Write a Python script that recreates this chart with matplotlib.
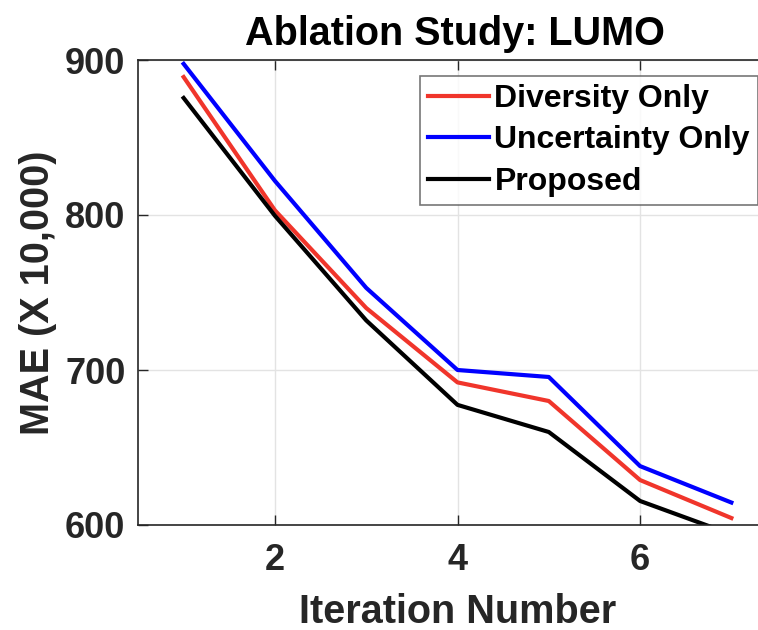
import matplotlib
matplotlib.use('Agg')
import matplotlib.pyplot as plt

iterations = [1, 2, 3, 4, 5, 6, 7]
diversity_only = [889, 803, 740, 692, 680, 629, 604.5]
uncertainty_only = [897.5, 822, 753, 700, 695.5, 638, 614.5]
proposed = [875.5, 799.5, 732, 677.5, 660, 615.5, 594]

plt.rcParams['font.family'] = ['Liberation Sans', 'DejaVu Sans']
plt.rcParams['font.weight'] = 'bold'

txt = '#262626'

fig = plt.figure(figsize=(7.58, 6.3), dpi=100)
ax = fig.add_axes([138 / 758, 105 / 630, 639 / 758, 465 / 630])

ax.plot(iterations, diversity_only, color='#f0352b', lw=3, label='Diversity Only')
ax.plot(iterations, uncertainty_only, color='#0000ff', lw=3, label='Uncertainty Only')
ax.plot(iterations, proposed, color='black', lw=3, label='Proposed')

ax.set_xlim(0.5, 7.5)
ax.set_ylim(600, 900)
ax.set_xticks([2, 4, 6])
ax.set_yticks([600, 700, 800, 900])
ax.grid(True, color='#e3e3e3', lw=1)
ax.set_axisbelow(True)

for s in ax.spines.values():
    s.set_color(txt)
    s.set_linewidth(1.2)
ax.tick_params(direction='in', length=7, width=1, colors=txt, labelsize=26,
               top=True, right=True)
ax.tick_params(axis='x', pad=13)
ax.tick_params(axis='y', pad=9)
for lab in ax.get_xticklabels() + ax.get_yticklabels():
    lab.set_fontweight('bold')

ax.set_xlabel('Iteration Number', fontsize=28.5, fontweight='bold', color=txt, labelpad=11)
ax.set_ylabel('MAE (X 10,000)', fontsize=28.5, fontweight='bold', color=txt, labelpad=6)
ax.set_title('Ablation Study: LUMO', fontsize=28.5, fontweight='bold', color='black', pad=11,
             x=(455 - 138) / 639)

leg = ax.legend(loc='upper left', bbox_to_anchor=(420 / 758, 1 - 76 / 630),
                bbox_transform=fig.transFigure, fontsize=23, frameon=True,
                fancybox=False, edgecolor='#555555', handlelength=1.9,
                handletextpad=0.18, borderpad=0.25, labelspacing=0.36, borderaxespad=0)
leg.get_frame().set_linewidth(1.2)
for t in leg.get_texts():
    t.set_fontweight('bold')
    t.set_color('black')

fig.savefig('out.png', dpi=100)
